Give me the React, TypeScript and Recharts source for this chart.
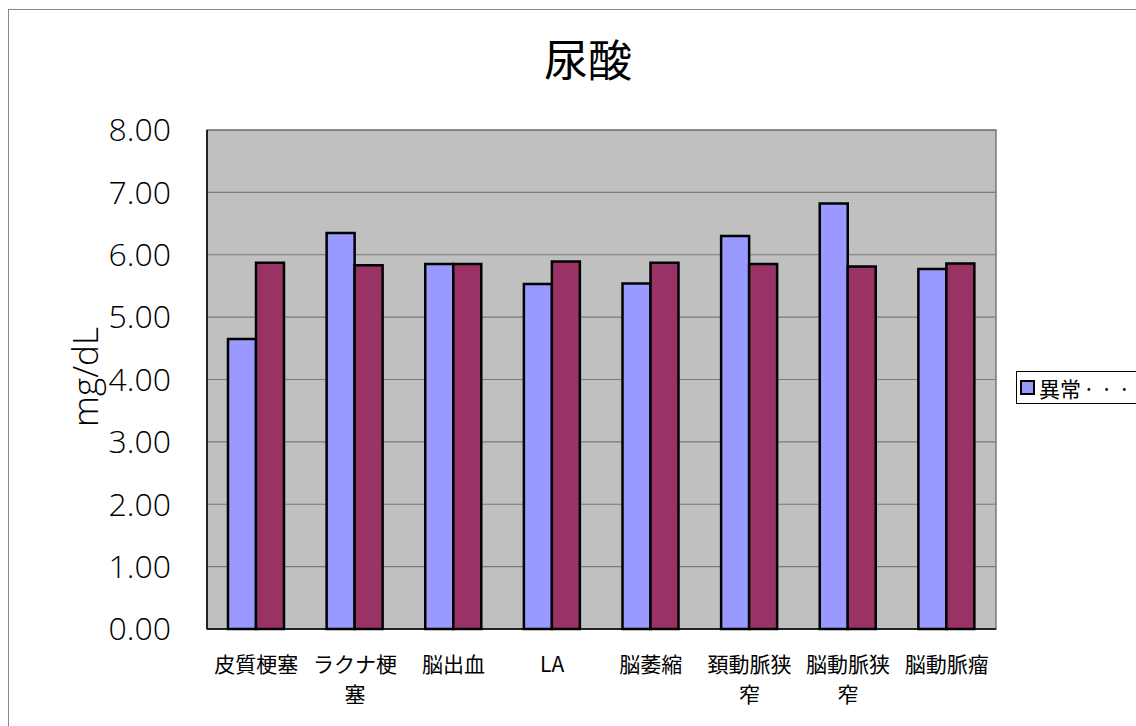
import React from 'react';
import {
  BarChart,
  Bar,
  XAxis,
  YAxis,
  CartesianGrid,
  ReferenceArea,
  Legend,
} from 'recharts';

// 尿酸 (mg/dL) by finding, two groups per category
const categories = ['皮質梗塞', 'ラクナ梗塞', '脳出血', 'LA', '脳萎縮', '頚動脈狭窄', '脳動脈狭窄', '脳動脈瘤'];
const seriesNames = ['異常あり', '異常なし'];
const abnormalValues = [4.65, 6.35, 5.85, 5.53, 5.54, 6.3, 6.82, 5.77];
const normalValues = [5.87, 5.83, 5.85, 5.89, 5.87, 5.85, 5.81, 5.86];
const yTicks = [0, 1, 2, 3, 4, 5, 6, 7, 8];

const data = categories.map((name, i) => ({
  name,
  abnormal: abnormalValues[i],
  normal: normalValues[i],
}));

const FONT = '"Noto Sans CJK JP", "Noto Sans", sans-serif';
const NUM_FONT = '"Open Sans", "Noto Sans", sans-serif';
const BLUE = '#9999ff';
const PLUM = '#993366';

// Category labels wrap every four characters, like the spreadsheet renderer does
const CategoryTick = (props: any) => {
  const { x, y, payload } = props;
  const label: string = String(payload.value);
  const lines: string[] = [];
  for (let i = 0; i < label.length; i += 4) lines.push(label.slice(i, i + 4));
  return (
    <g>
      {lines.map((ln, i) => (
        <text
          key={i}
          x={x}
          y={y + i * 30}
          textAnchor="middle"
          dominantBaseline="central"
          fontFamily={FONT}
          fontSize={21}
          fill="#000"
        >
          {ln}
        </text>
      ))}
    </g>
  );
};

const LegendBox = () => (
  <div
    style={{
      border: '1px solid #000',
      height: 33,
      width: 400,
      boxSizing: 'border-box',
      display: 'flex',
      alignItems: 'center',
      fontFamily: FONT,
      fontSize: 21,
      whiteSpace: 'nowrap',
      background: '#fff',
    }}
  >
    {seriesNames.map((n, i) => (
      <span key={n} style={{ display: 'inline-flex', alignItems: 'center', marginLeft: i === 0 ? 3 : 40 }}>
        <span
          style={{
            display: 'inline-block',
            width: 11,
            height: 11,
            border: '2px solid #000',
            background: i === 0 ? BLUE : PLUM,
            marginRight: 4,
          }}
        />
        <span>{n.slice(0, 2)}</span>
        <span style={{ letterSpacing: 6, marginLeft: 2 }}>{'···'}</span>
      </span>
    ))}
  </div>
);

export default function App() {
  return (
    <div
      style={{
        position: 'fixed',
        left: 8,
        top: 9,
        width: 1128,
        height: 717,
        overflow: 'hidden',
        borderLeft: '1px solid #868686',
        borderTop: '1px solid #868686',
        background: '#fff',
      }}
    >
      <BarChart
        width={1127}
        height={716}
        data={data}
        margin={{ top: 120, right: 140, left: 68, bottom: 37 }}
        barGap={0}
        barSize={28}
      >
        <CartesianGrid
          vertical={false}
          stroke="#7a7a7a"
          strokeWidth={1.2}
          fill="#c0c0c0"
          fillOpacity={1}
        />
        <ReferenceArea y1={0} y2={8} fill="none" stroke="#7a7a7a" strokeWidth={1.5} ifOverflow="visible" />
        <XAxis
          dataKey="name"
          height={60}
          axisLine={{ stroke: '#000', strokeWidth: 1.5 }}
          tickLine={false}
          tickSize={0}
          tickMargin={34}
          interval={0}
          tick={<CategoryTick />}
        />
        <YAxis
          width={130}
          domain={[0, 8]}
          ticks={yTicks}
          interval={0}
          axisLine={{ stroke: '#000', strokeWidth: 1.5 }}
          tickLine={false}
          tickSize={0}
          tickMargin={36}
          tickFormatter={(v: number) => v.toFixed(2)}
          tick={{ fontFamily: NUM_FONT, fontSize: 32, fontWeight: 300, fill: '#000' }}
        />
        <Legend
          content={<LegendBox />}
          layout="horizontal"
          verticalAlign="middle"
          align="center"
          wrapperStyle={{ left: 1007, top: 361, width: 400 }}
        />
        <Bar
          dataKey="abnormal"
          name={seriesNames[0]}
          fill={BLUE}
          stroke="#000"
          strokeWidth={2.5}
          isAnimationActive={false}
        />
        <Bar
          dataKey="normal"
          name={seriesNames[1]}
          fill={PLUM}
          stroke="#000"
          strokeWidth={2.5}
          isAnimationActive={false}
        />
        <text x={579} y={48} textAnchor="middle" dominantBaseline="central" fontFamily={FONT} fontSize={44} fill="#000">
          尿酸
        </text>
        <text
          x={75}
          y={367}
          transform="rotate(-90 75 367)"
          textAnchor="middle"
          dominantBaseline="central"
          fontFamily={NUM_FONT}
          fontSize={35}
          fontWeight={300}
          fill="#000"
        >
          mg/dL
        </text>
      </BarChart>
    </div>
  );
}
